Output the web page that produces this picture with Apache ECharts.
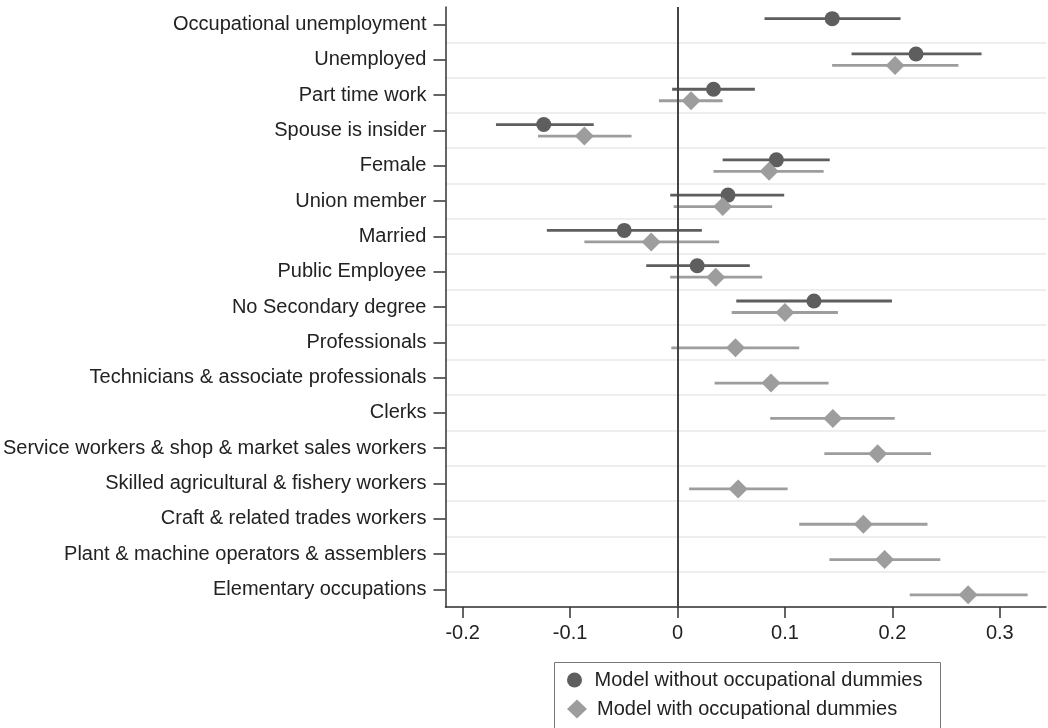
<!DOCTYPE html>
<html>
<head>
<meta charset="utf-8">
<script src="https://cdn.jsdelivr.net/npm/echarts@6/dist/echarts.min.js"></script>
<style>
  html, body { margin: 0; padding: 0; background: #ffffff; }
  #chart { width: 1048px; height: 728px; }
</style>
</head>
<body>
<div id="chart"></div>
<script>
// Regressors, top to bottom
const categories = [
  'Occupational unemployment',
  'Unemployed',
  'Part time work',
  'Spouse is insider',
  'Female',
  'Union member',
  'Married',
  'Public Employee',
  'No Secondary degree',
  'Professionals',
  'Technicians & associate professionals',
  'Clerks',
  'Service workers & shop & market sales workers',
  'Skilled agricultural & fishery workers',
  'Craft & related trades workers',
  'Plant & machine operators & assemblers',
  'Elementary occupations'
];

// Model without occupational dummies: point estimate and confidence bounds
const estNoOcc = [0.144, 0.222, 0.0335, -0.1245, 0.092, 0.047, -0.0496, 0.0183, 0.127, null, null, null, null, null, null, null, null];
const loNoOcc  = [0.081, 0.162, -0.005, -0.169, 0.042, -0.0068, -0.1216, -0.0291, 0.0547, null, null, null, null, null, null, null, null];
const hiNoOcc  = [0.2076, 0.283, 0.072, -0.078, 0.1417, 0.0993, 0.0227, 0.0673, 0.1996, null, null, null, null, null, null, null, null];

// Model with occupational dummies: point estimate and confidence bounds
const estOcc = [null, 0.2025, 0.0126, -0.0867, 0.0853, 0.0421, -0.0245, 0.0356, 0.100, 0.054, 0.087, 0.1446, 0.1863, 0.0565, 0.173, 0.1928, 0.2705];
const loOcc  = [null, 0.1439, -0.0173, -0.1299, 0.0335, -0.0036, -0.0867, -0.0068, 0.0504, -0.0058, 0.0345, 0.0863, 0.1367, 0.0108, 0.1133, 0.1414, 0.2162];
const hiOcc  = [null, 0.2615, 0.042, -0.0428, 0.136, 0.0881, 0.0388, 0.0788, 0.1493, 0.1133, 0.1406, 0.2022, 0.236, 0.1025, 0.2327, 0.2446, 0.3259];

const xTicks = [-0.2, -0.1, 0, 0.1, 0.2, 0.3];

const seriesNames = ['Model without occupational dummies', 'Model with occupational dummies'];

const darkGray = '#5e5e5e';
const lightGray = '#9d9d9d';
const FONT = '"Liberation Sans", Arial, Helvetica, sans-serif';

function points(est) {
  const out = [];
  est.forEach((v, i) => { if (v !== null) out.push([v, i]); });
  return out;
}
function intervals(lo, hi) {
  const out = [];
  lo.forEach((v, i) => { if (v !== null) out.push([i, v, hi[i]]); });
  return out;
}

// Horizontal confidence interval drawn slightly above/below the row centre
function ciRenderer(offsetPx, color) {
  return function (params, api) {
    const idx = api.value(0);
    const a = api.coord([api.value(1), idx]);
    const b = api.coord([api.value(2), idx]);
    const y = a[1] + offsetPx;
    return {
      type: 'line',
      shape: { x1: a[0], y1: y, x2: b[0], y2: y },
      style: { stroke: color, lineWidth: 2.8 }
    };
  };
}

// One legend row per model, stacked inside a shared frame
function legendRow(name, icon, top, iconH) {
  return {
    data: [{ name: name, icon: icon }],
    orient: 'horizontal',
    left: 567,
    top: top,
    itemWidth: 20,
    itemHeight: iconH,
    padding: 0,
    textStyle: { fontFamily: FONT, fontSize: 20, color: '#222222', padding: [0, 0, 0, 5] }
  };
}

const chart = echarts.init(document.getElementById('chart'), null, { renderer: 'canvas' });

chart.setOption({
  backgroundColor: '#ffffff',
  animation: false,
  textStyle: { fontFamily: FONT },
  grid: { left: 445, right: 2, top: 7, bottom: 121, containLabel: false },
  legend: [
    legendRow(seriesNames[0], 'circle', 670, 15),
    legendRow(seriesNames[1], 'diamond', 699, 19)
  ],
  graphic: [{
    type: 'rect',
    left: 552,
    top: 660,
    shape: { width: 386, height: 67 },
    style: { fill: 'none', stroke: '#777777', lineWidth: 1 },
    silent: true
  }],
  xAxis: {
    type: 'value',
    min: -0.216,
    max: 0.343,
    axisLine: { show: true, lineStyle: { color: '#333333', width: 1.5 } },
    axisTick: { show: true, length: 11, customValues: xTicks, lineStyle: { color: '#333333', width: 1.5 } },
    axisLabel: {
      customValues: xTicks,
      margin: 16,
      fontSize: 20,
      color: '#222222',
      fontFamily: FONT,
      formatter: v => String(Math.round(v * 10) / 10)
    },
    splitLine: { show: false }
  },
  yAxis: {
    type: 'category',
    data: categories,
    inverse: true,
    boundaryGap: true,
    axisLine: { show: true, onZero: false, lineStyle: { color: '#333333', width: 1.5 } },
    axisTick: { show: true, alignWithLabel: true, length: 12, lineStyle: { color: '#333333', width: 1.5 } },
    axisLabel: { margin: 19, fontSize: 20, color: '#222222', fontFamily: FONT, interval: 0 },
    splitLine: {
      show: true,
      interval: (i) => i !== 0,
      lineStyle: { color: '#e8e8e8', width: 1.5 }
    }
  },
  series: [
    {
      name: 'ci-no-occ',
      type: 'custom',
      silent: true,
      renderItem: ciRenderer(-6, darkGray),
      encode: { x: [1, 2], y: 0 },
      data: intervals(loNoOcc, hiNoOcc),
      z: 3,
      markLine: {
        silent: true,
        symbol: 'none',
        label: { show: false },
        lineStyle: { color: '#444444', width: 2, type: 'solid' },
        data: [{ xAxis: 0 }]
      }
    },
    {
      name: 'ci-occ',
      type: 'custom',
      silent: true,
      renderItem: ciRenderer(5.5, lightGray),
      encode: { x: [1, 2], y: 0 },
      data: intervals(loOcc, hiOcc),
      z: 3
    },
    {
      name: seriesNames[0],
      type: 'scatter',
      symbol: 'circle',
      symbolSize: 15,
      symbolOffset: [0, -6],
      itemStyle: { color: darkGray, opacity: 1 },
      data: points(estNoOcc),
      z: 5
    },
    {
      name: seriesNames[1],
      type: 'scatter',
      symbol: 'diamond',
      symbolSize: 19,
      symbolOffset: [0, 5.5],
      itemStyle: { color: lightGray, opacity: 1 },
      data: points(estOcc),
      z: 5
    }
  ]
});
</script>
</body>
</html>
